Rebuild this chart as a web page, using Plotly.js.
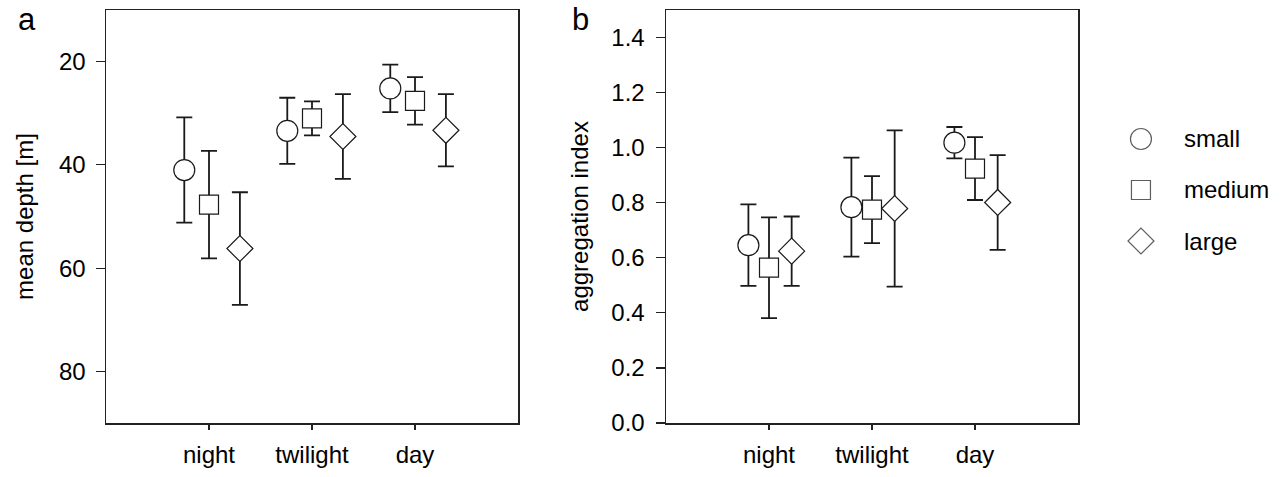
<!DOCTYPE html>
<html>
<head>
<meta charset="utf-8">
<script src="https://cdn.plot.ly/plotly-3.0.1.min.js"></script>
<style>html,body{margin:0;padding:0;background:#fff;}#chart{width:1287px;height:477px;}</style>
</head>
<body>
<div id="chart"></div>
<script>
// ---- data ----
const categories = ['night', 'twilight', 'day'];
const seriesNames = ['small', 'medium', 'large'];

// panel a: mean depth [m]
const depthSmall = [41.0, 33.4, 25.2];
const depthSmallErr = [10.2, 6.4, 4.6];
const depthMedium = [47.7, 31.0, 27.6];
const depthMediumErr = [10.4, 3.3, 4.6];
const depthLarge = [56.2, 34.5, 33.3];
const depthLargeErr = [10.9, 8.2, 7.0];

// panel b: aggregation index
const aggSmall = [0.646, 0.784, 1.018];
const aggSmallErr = [0.148, 0.180, 0.057];
const aggMedium = [0.564, 0.775, 0.924];
const aggMediumErr = [0.183, 0.122, 0.114];
const aggLarge = [0.624, 0.779, 0.801];
const aggLargeErr = [0.126, 0.284, 0.172];

const depthTicks = [20, 40, 60, 80];
const aggTicks = [0.0, 0.2, 0.4, 0.6, 0.8, 1.0, 1.2, 1.4];

// ---- style ----
const FONT = 'Arial, "Liberation Sans", sans-serif';
const INK = '#1a1a1a';
const symbols = ['circle', 'square', 'diamond'];
const sizes = [21, 19, 20];
const offsetsA = [-0.24, 0, 0.3];
const offsetsB = [-0.2, 0, 0.22];

const idx = categories.map((c, i) => i);

function series(vals, errs, k, offs, xa, ya) {
  return {
    type: 'scatter', mode: 'markers',
    x: idx.map(i => i + offs[k]), y: vals,
    xaxis: xa, yaxis: ya,
    name: seriesNames[k], showlegend: false, hoverinfo: 'skip',
    marker: {symbol: symbols[k], size: sizes[k], color: '#ffffff', line: {color: INK, width: 1.2}},
    error_y: {type: 'data', array: errs, visible: true, color: INK, thickness: 1.8, width: 8}
  };
}

const depthVals = [depthSmall, depthMedium, depthLarge];
const depthErrs = [depthSmallErr, depthMediumErr, depthLargeErr];
const aggVals = [aggSmall, aggMedium, aggLarge];
const aggErrs = [aggSmallErr, aggMediumErr, aggLargeErr];

const traces = [];
for (let k = 0; k < 3; k++) traces.push(series(depthVals[k], depthErrs[k], k, offsetsA, 'x', 'y'));
for (let k = 0; k < 3; k++) traces.push(series(aggVals[k], aggErrs[k], k, offsetsB, 'x2', 'y2'));

// custom legend on hidden axes
traces.push({
  type: 'scatter', mode: 'markers',
  x: seriesNames.map(() => 0), y: seriesNames.map((s, i) => i),
  xaxis: 'x3', yaxis: 'y3', showlegend: false, hoverinfo: 'skip',
  marker: {symbol: symbols, size: sizes, color: '#ffffff', line: {color: INK, width: 1.2}}
});

const W = 1287, H = 477;
const yDom = [(H - 423) / H, (H - 10) / H];

const axisCommon = {
  showline: true, mirror: true, linecolor: '#222', linewidth: 1.5,
  showgrid: false, zeroline: false, ticks: 'outside', tickcolor: '#222',
  tickfont: {family: FONT, size: 24, color: '#000'}
};

const layout = {
  width: W, height: H,
  margin: {l: 0, r: 0, t: 0, b: 0},
  paper_bgcolor: '#fff', plot_bgcolor: '#fff',
  font: {family: FONT, color: '#000'},
  showlegend: false,
  xaxis: Object.assign({}, axisCommon, {
    domain: [106 / W, 518 / W], range: [-1, 3],
    tickvals: idx, ticktext: categories, ticklen: 5, tickwidth: 1.2,
    ticklabelstandoff: 5, anchor: 'y'
  }),
  yaxis: Object.assign({}, axisCommon, {
    domain: yDom, range: [90, 10], tickvals: depthTicks, ticklen: 9, tickwidth: 1.2,
    ticklabelstandoff: 5, anchor: 'x',
    title: {text: 'mean depth [m]', font: {family: FONT, size: 24, color: '#000'}, standoff: 18}
  }),
  xaxis2: Object.assign({}, axisCommon, {
    domain: [666 / W, 1078 / W], range: [-1, 3],
    tickvals: idx, ticktext: categories, ticklen: 5, tickwidth: 1.2,
    ticklabelstandoff: 5, anchor: 'y2'
  }),
  yaxis2: Object.assign({}, axisCommon, {
    domain: yDom, range: [0, 1.5], tickvals: aggTicks, tickformat: '.1f', ticklen: 9, tickwidth: 1.2,
    ticklabelstandoff: 6, anchor: 'x2',
    title: {text: 'aggregation index', font: {family: FONT, size: 24, color: '#000'}, standoff: 16}
  }),
  xaxis3: {domain: [0.85, 1.0], range: [-0.2435, 0.7565], visible: false, fixedrange: true, anchor: 'y3'},
  yaxis3: {domain: [0, 1], range: [6.627, -2.725], visible: false, fixedrange: true, anchor: 'x3'},
  annotations: [
    {text: 'a', xref: 'paper', yref: 'paper', x: 16 / W, y: 1 - 19 / H, xanchor: 'left', yanchor: 'middle',
     showarrow: false, font: {family: FONT, size: 31, color: '#000'}},
    {text: 'b', xref: 'paper', yref: 'paper', x: 570 / W, y: 1 - 19 / H, xanchor: 'left', yanchor: 'middle',
     showarrow: false, font: {family: FONT, size: 31, color: '#000'}}
  ].concat(seriesNames.map((s, i) => ({
    text: s, xref: 'x3', yref: 'y3', x: 0.21, y: i, xanchor: 'left', yanchor: 'middle',
    showarrow: false, font: {family: FONT, size: 24, color: '#000'}
  })))
};

Plotly.newPlot('chart', traces, layout, {displayModeBar: false, staticPlot: true});
</script>
</body>
</html>
